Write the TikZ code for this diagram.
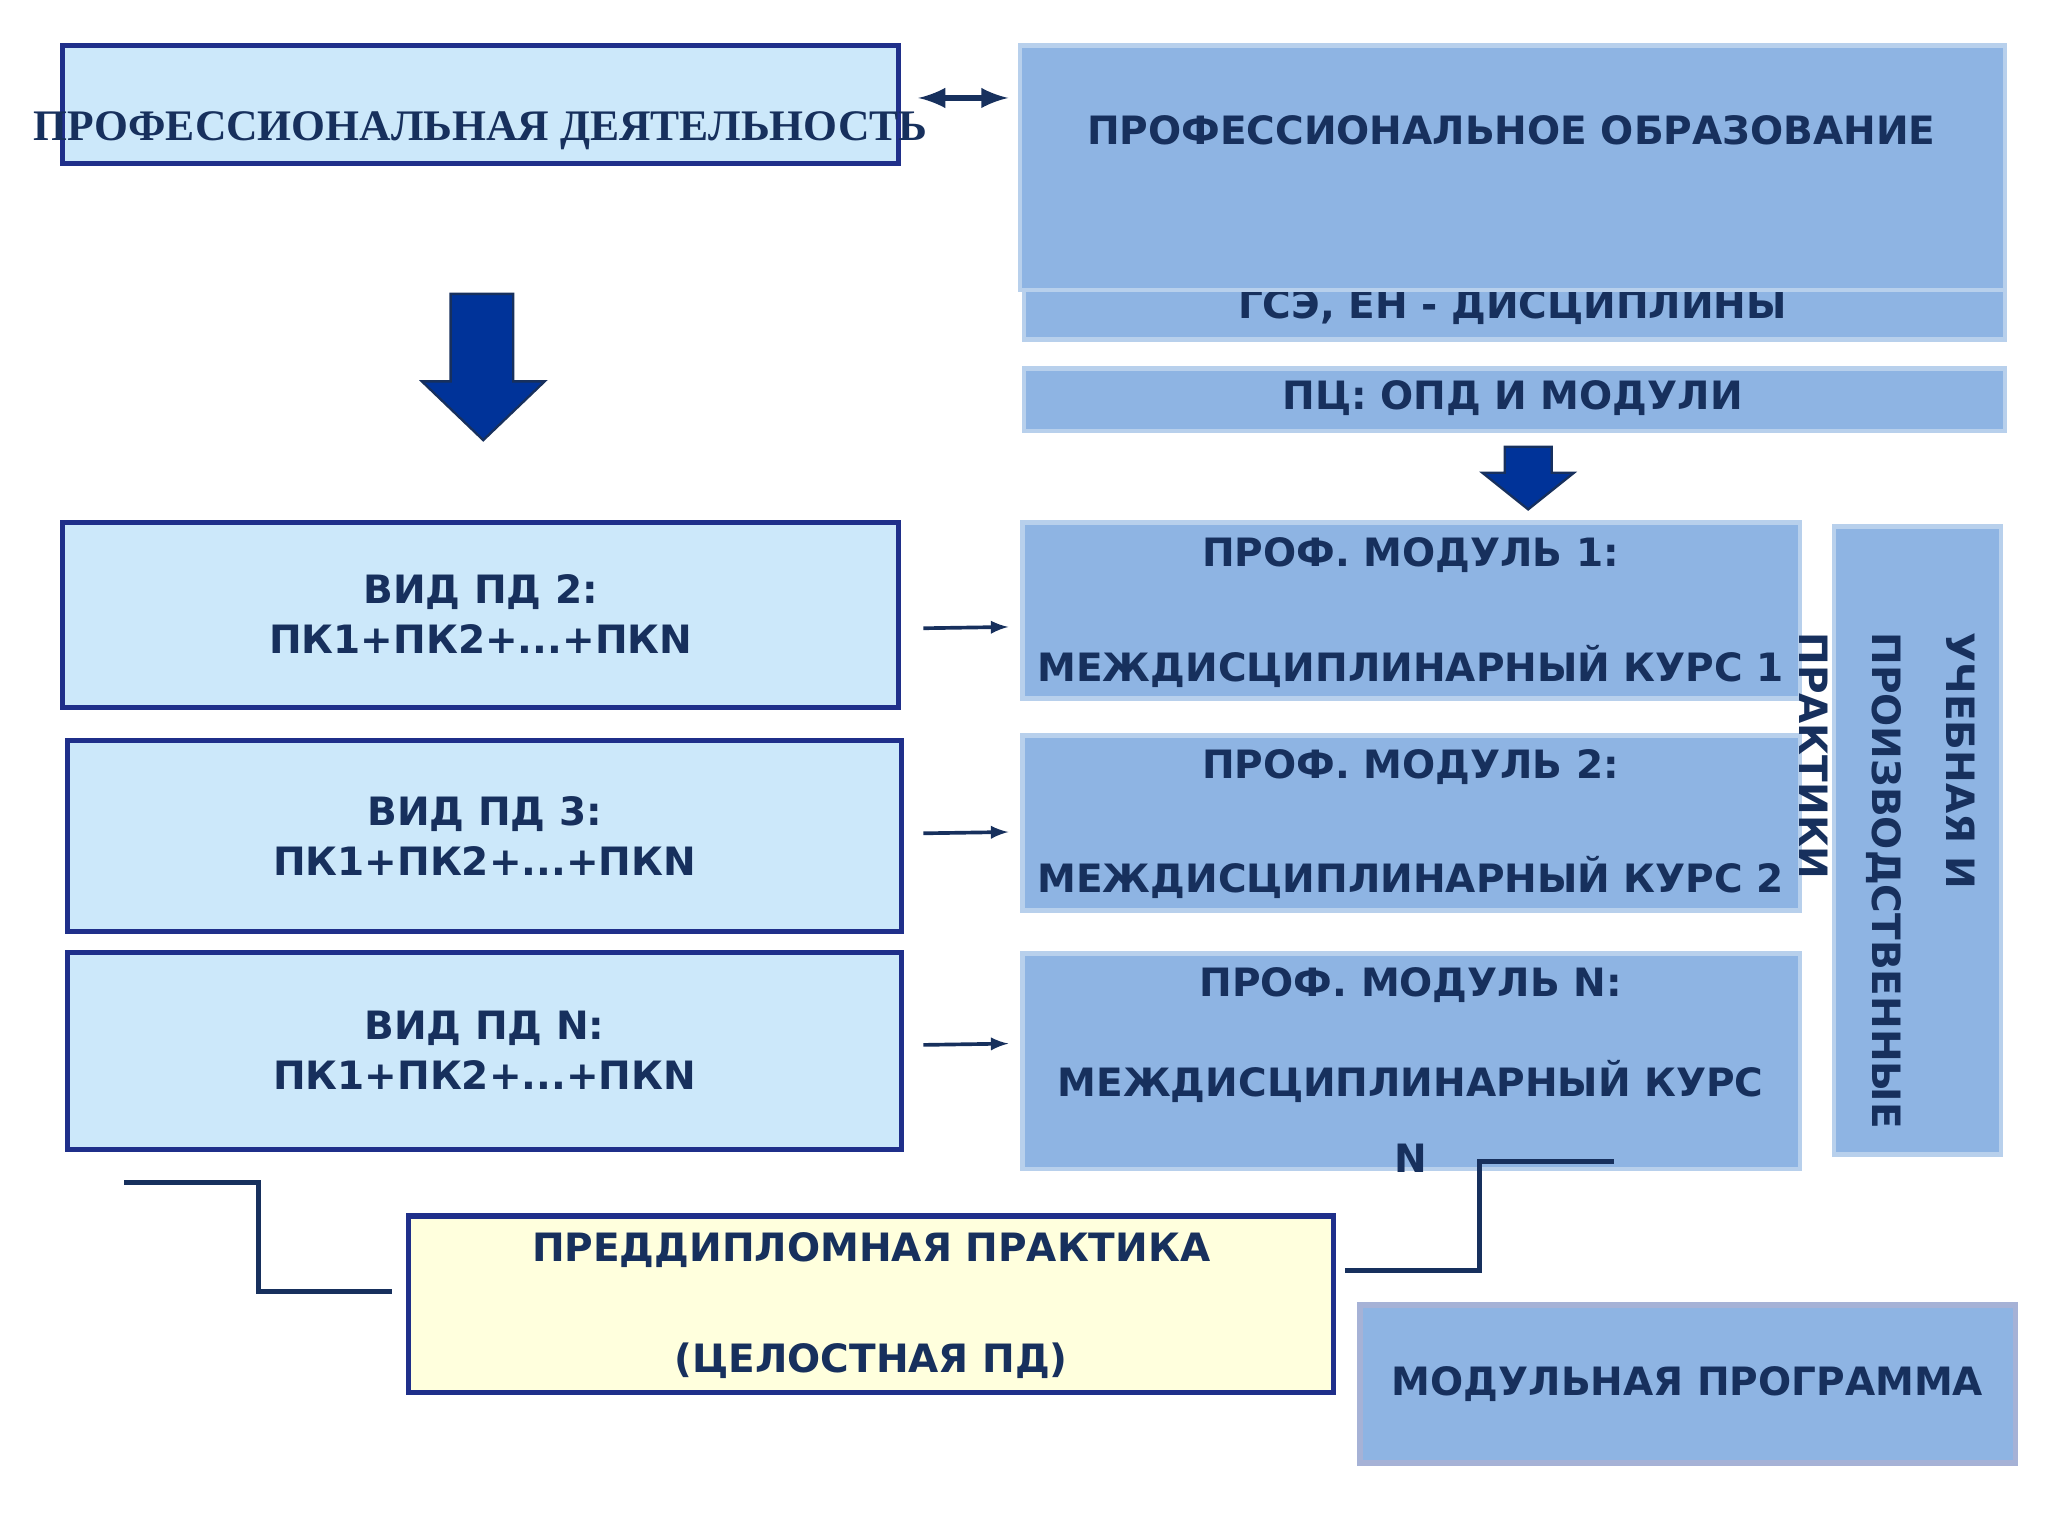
\documentclass[tikz,border=0pt]{standalone}
\usepackage{fontspec}
\setmainfont{DejaVu Sans}
\newfontfamily\serifb{Liberation Serif}
\definecolor{lb}{HTML}{CCE8FA}
\definecolor{mb}{HTML}{8EB4E3}
\definecolor{nv}{HTML}{1F2F8A}
\definecolor{tx}{HTML}{17305D}
\definecolor{ed}{HTML}{B8D0EC}
\definecolor{ar}{HTML}{003399}
\definecolor{yl}{HTML}{FFFFDD}
\begin{document}
\begin{tikzpicture}[x=0.02cm,y=-0.02cm,
 lbox/.style={draw=nv,line width=2.2pt,fill=lb},
 mbox/.style={draw=ed,line width=2pt,fill=mb},
 t/.style={font=\fontsize{17}{22}\selectfont\bfseries,text=tx,align=center},
 conn/.style={draw=tx,line width=2.2pt},
 arr/.style={draw=tx,line width=1.6pt,-latex}]
\useasboundingbox (0,0) rectangle (1568,1176);
% left top
\draw[lbox] (48,35) rectangle (688,125);
\node[t,font=\serifb\fontsize{19}{22}\selectfont\bfseries] (pd) at (368,100) {ПРОФЕССИОНАЛЬНАЯ ДЕЯТЕЛЬНОСТЬ};
% right top
\draw[mbox] (784,222) rectangle (1535,260);
\node[t] (gse) at (1158,235) {ГСЭ, ЕН - ДИСЦИПЛИНЫ};
\draw[mbox] (781,35) rectangle (1535,222);
\node[t] (po) at (1157,100) {ПРОФЕССИОНАЛЬНОЕ ОБРАЗОВАНИЕ};
\draw[mbox] (784,282) rectangle (1535,330);
\node[t] (pc) at (1158,305) {ПЦ: ОПД И МОДУЛИ};
% double arrow
\coordinate (da1) at (703,75); \coordinate (da2) at (772,75);
\draw[draw=tx,line width=3pt,latex-latex] (da1) -- (da2);
% big arrow
\draw[fill=ar,draw=tx,line width=1pt] (345,225) -- (393,225) -- (393,292) -- (417,292) -- (370,337) -- (323,292) -- (345,292) -- cycle;
\draw[fill=ar,draw=tx,line width=1pt] (1152,342) -- (1188,342) -- (1188,362) -- (1205,362) -- (1170,390) -- (1135,362) -- (1152,362) -- cycle;
% left boxes
\draw[lbox] (48,400) rectangle (688,542);
\node[t] (v2) at (368,470) {ВИД ПД 2:\\ПК1+ПК2+...+ПКN};
\draw[lbox] (52,567) rectangle (690,713);
\node[t] (v3) at (371,640) {ВИД ПД 3:\\ПК1+ПК2+...+ПКN};
\draw[lbox] (52,729) rectangle (690,880);
\node[t] (vn) at (371,804) {ВИД ПД N:\\ПК1+ПК2+...+ПКN};
% module boxes
\draw[mbox] (783,400) rectangle (1378,535);
\node[t] (m1a) at (1080,425) {ПРОФ. МОДУЛЬ 1:};
\node[t] (m1b) at (1080,510) {МЕЖДИСЦИПЛИНАРНЫЙ КУРС 1};
\draw[mbox] (783,563) rectangle (1378,697);
\node[t] (m2a) at (1080,587) {ПРОФ. МОДУЛЬ 2:};
\node[t] (m2b) at (1080,672) {МЕЖДИСЦИПЛИНАРНЫЙ КУРС 2};
\draw[mbox] (783,730) rectangle (1378,895);
\node[t] (mna) at (1080,754) {ПРОФ. МОДУЛЬ N:};
\node[t,font=\fontsize{17}{33}\selectfont\bfseries] (mnb) at (1080,855) {МЕЖДИСЦИПЛИНАРНЫЙ КУРС\\N};
% arrows
\coordinate (a1) at (707,481); \coordinate (b1) at (772,480);
\coordinate (a2) at (707,638); \coordinate (b2) at (772,637);
\coordinate (a3) at (707,800); \coordinate (b3) at (772,799);
\draw[arr] (a1) -- (b1); \draw[arr] (a2) -- (b2); \draw[arr] (a3) -- (b3);
% vertical
\draw[mbox] (1404,403) rectangle (1532,884);
\node[t,align=left,rotate=-90,anchor=north west,font=\fontsize{17}{32}\selectfont\bfseries] (up) at (1518,478) {УЧЕБНАЯ И\\ПРОИЗВОДСТВЕННЫЕ\\ПРАКТИКИ};
% preddiplomnaya
\draw[draw=nv,line width=2.2pt,fill=yl] (313,931) rectangle (1021,1066);
\node[t] (pp1) at (667,957) {ПРЕДДИПЛОМНАЯ ПРАКТИКА};
\node[t] (pp2) at (667,1042) {(ЦЕЛОСТНАЯ ПД)};
% connectors
\coordinate (c1) at (95,905); \coordinate (c2) at (300,989);
\coordinate (c3) at (1030,973); \coordinate (c4) at (1236,889);
\draw[conn] (c1) -- (198,905) -- (198,989) -- (c2);
\draw[conn] (c3) -- (1133,973) -- (1133,889) -- (c4);
% modular program
\draw[draw=ed!50!nv!60,line width=2.5pt,fill=mb] (1041,999) rectangle (1543,1120);
\node[t] (mp) at (1292,1060) {МОДУЛЬНАЯ ПРОГРАММА};
\end{tikzpicture}
\end{document}
